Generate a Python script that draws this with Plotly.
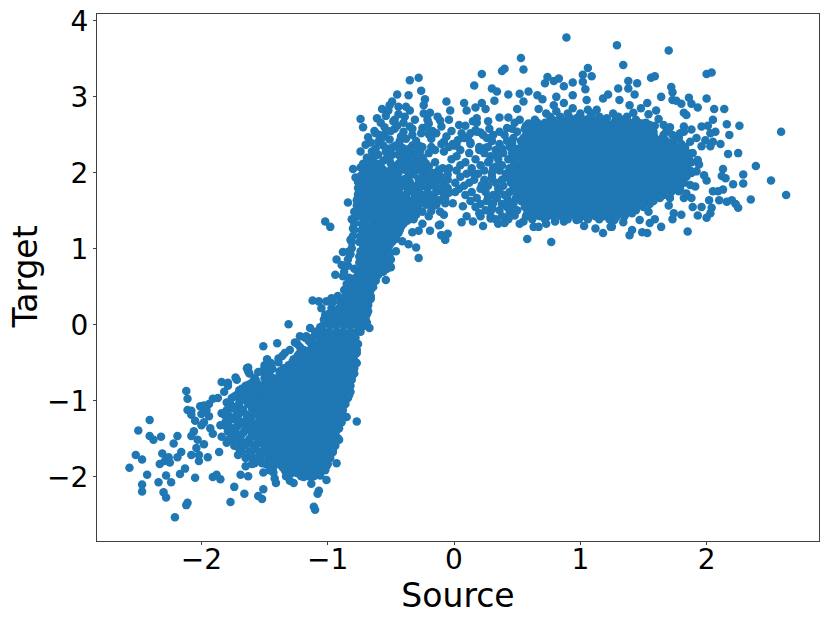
import plotly.graph_objects as go

# outlying and rim points
edge_x = [-2.41,-2.50,-2.41,-2.38,-2.32,-2.19,-2.22,-2.52,-2.47,-2.57,-2.43,-2.47,-2.47,-2.34,-2.28,-2.24,-2.30,-2.28,-2.11,-2.12,-2.21,-2.31,-2.33,-2.29,-2.25,-2.26,-2.19,-2.16,-2.13,-2.17,-2.05,-2.08,-2.12,-2.11,-2.11,-2.08,-2.08,-2.05,-2.01,-1.98,-2.00,-2.00,-2.06,-2.08,-2.03,-1.98,-2.04,-2.02,-2.02,-1.95,-1.91,-1.88,-1.85,-1.74,-1.66,-1.77,-1.69,-1.63,-1.84,-1.79,-1.73,-1.63,-1.63,-1.91,
-1.31,-1.51,-1.40,-0.76,-1.26,-1.22,-1.06,-1.48,-1.64,-1.52,-1.50,-1.46,-1.39,-1.34,-1.23,-0.77,-0.77,-0.82,-0.77,-0.85,-0.92,-0.92,-0.96,-0.93,-1.01,-1.01,-1.06,-1.13,-1.07,-1.08,-1.11,-1.10,-1.27,-1.30,-1.19,-1.41,-1.42,-1.43,-1.51,-1.55,-1.52,-1.51,-1.58,-1.65,-1.30,-1.13,
-0.84,-1.02,-0.98,-0.46,-0.30,-0.28,-0.54,-0.67,-1.12,-1.07,-0.93,-0.89,-0.94,-0.88,-0.84,-0.82,-0.80,-0.81,-0.79,-0.76,-0.20,-0.12,-0.19,-0.10,-0.07,-0.33,-0.28,-0.25,-0.32,-0.36,-0.41,-0.50,-0.56,-0.53,-0.53,-0.11,-0.14,-0.97,-1.01,-1.05,-1.02,-0.66,-0.68,-0.65,-0.88,-1.14,-1.05,-1.17,
-0.35,-0.28,0.22,0.16,-0.45,-0.36,-0.26,-0.23,-0.24,-0.49,-0.51,-0.57,-0.52,-0.44,-0.38,-0.35,-0.61,-0.74,-0.72,-0.39,-0.19,-0.21,-0.06,-0.03,0.08,0.10,0.22,0.17,0.25,-0.11,0.04,0.27,-0.45,-0.47,-0.63,-0.40,-0.35,-0.25,-0.20,-0.10,-0.20,0.18,0.18,-0.70,-0.74,-0.80,-0.74,-0.78,-0.64,-0.59,-0.55,-0.51,-0.43,-0.33,-0.27,-0.15,-0.08,0.03,-0.60,-0.08,0.11,0.23,
0.89,0.53,0.55,0.40,0.38,1.06,1.09,1.02,1.02,0.74,0.72,0.79,0.83,0.94,0.87,1.04,0.94,0.30,0.34,0.43,0.32,0.59,0.52,0.66,0.70,0.81,0.43,0.36,1.05,1.18,1.22,0.50,0.55,0.79,0.87,0.94,1.06,0.67,0.73,1.13,0.13,0.21,0.31,0.52,0.59,0.81,0.97,1.05,1.21,0.68,0.84,0.42,
1.29,1.70,1.34,2.00,2.04,1.56,1.59,1.38,1.45,1.38,1.72,1.73,1.30,1.43,1.64,1.73,1.76,1.80,1.86,1.88,1.93,2.00,2.06,2.14,1.53,1.48,1.60,1.54,1.82,1.84,1.62,2.05,2.16,2.26,2.59,2.01,1.96,2.07,2.03,2.18,1.88,1.82,1.82,1.71,1.66,1.49,1.55,1.39,1.42,1.31,1.92,1.99,2.05,2.11,1.87,1.79,
2.17,2.25,2.39,2.13,2.12,2.15,2.29,2.29,2.21,2.51,2.63,2.13,2.09,2.05,2.35,2.20,2.16,2.25,2.23,2.10,2.02,2.04,2.03,2.00,1.93,1.96,1.89,1.80,1.74,1.73,1.64,1.85,1.53,1.49,1.39,1.41,1.55,1.59,1.47,1.54,1.34,1.25,1.70,1.82,1.88,1.71,2.00,1.98,1.91,1.94,1.92,2.03,1.96,1.89,1.93,1.88,1.87,1.84,1.78,1.63,
0.58,0.77,-0.05,-0.07,-0.10,0.06,0.10,0.15,0.23,0.35,0.40,0.52,0.55,0.63,0.67,0.73,0.80,0.87,0.97,1.03,1.12,1.18,1.24,1.27,-0.08,-0.11,-0.07,-0.01,0.01,0.07,0.21,0.29,0.44,
-0.68,-0.66,-0.62,-0.57,-0.55,-0.50,-0.47,-0.42,-0.38,-0.33,-0.30,-0.26,-0.22,-0.18,-0.14,-0.10,-0.06,-0.02,0.02,0.06,0.13,0.17,0.25,0.30,-0.58,-0.54,-0.48,-0.44,-0.40,-0.31,-0.24,-0.17,-0.13,-0.04,0.00,0.09,0.15,0.20]
edge_y = [-1.25,-1.39,-1.46,-1.51,-1.47,-1.46,-1.56,-1.71,-1.77,-1.88,-1.97,-2.10,-2.19,-2.07,-1.98,-2.07,-2.20,-2.27,-2.34,-2.37,-2.53,-1.69,-1.83,-1.79,-1.81,-1.74,-1.74,-1.67,-1.89,-1.96,-2.01,-1.71,-0.87,-0.97,-1.12,-1.13,-1.18,-1.26,-1.07,-1.06,-1.17,-1.32,-1.40,-1.46,-1.51,-1.57,-1.62,-1.71,-1.79,-1.74,-2.00,-1.97,-2.03,-2.13,-2.22,-2.33,-1.97,-1.99,-0.75,-0.76,-0.69,-0.56,-0.61,-0.97,
0.01,-0.28,-0.24,-0.25,-0.23,-0.15,-0.03,-0.45,-0.57,-0.61,-0.53,-0.55,-0.44,-0.37,-0.39,-0.50,-0.37,-0.88,-1.27,-1.21,-1.37,-1.49,-1.67,-1.82,-1.86,-2.04,-1.98,-2.09,-2.18,-2.22,-2.39,-2.43,-2.08,-2.05,-2.00,-2.08,-2.02,-1.94,-2.16,-2.25,-2.29,-1.94,-1.82,-1.86,-1.96,-1.98,
1.61,1.36,1.29,0.97,1.02,0.88,0.59,-0.04,0.32,0.31,0.86,0.79,0.66,0.96,0.96,1.12,1.27,1.39,1.49,1.69,1.43,1.31,1.24,1.18,1.12,1.22,1.24,1.33,1.39,1.06,1.10,0.76,0.73,0.86,0.96,1.49,1.58,0.35,0.31,0.22,0.13,0.36,0.18,0.50,0.64,-0.04,-0.04,-0.15,
3.22,3.25,3.30,3.15,3.03,3.02,3.08,2.97,2.89,2.94,2.89,2.84,2.82,2.87,2.87,2.82,2.72,2.71,2.60,2.74,2.79,2.70,2.94,2.82,2.92,2.82,2.92,2.86,2.84,2.69,2.63,2.68,2.62,2.58,2.55,2.54,2.61,2.59,2.65,2.61,2.51,2.72,2.66,2.37,2.28,2.05,2.07,1.94,2.21,2.50,2.50,2.44,2.42,2.50,2.35,2.30,2.41,2.43,2.41,2.28,2.46,2.50,
3.78,3.51,3.36,3.37,3.34,3.38,3.27,3.29,3.20,3.26,3.18,3.21,3.24,3.19,3.14,3.10,3.02,3.11,3.07,3.03,2.95,3.07,3.04,3.02,2.97,3.00,2.73,2.73,2.96,2.98,3.03,2.84,2.94,2.89,2.92,2.85,2.83,2.84,2.78,2.83,2.52,2.53,2.50,2.70,2.65,2.81,2.72,2.70,2.72,2.61,2.61,2.59,
3.68,3.61,3.42,3.30,3.32,3.25,3.27,3.21,3.18,3.11,3.13,3.06,3.11,3.03,3.00,2.96,2.95,2.91,2.99,2.91,2.86,2.98,2.84,2.84,2.92,2.85,2.82,2.77,2.79,2.76,2.71,2.70,2.64,2.62,2.54,2.62,2.61,2.54,2.52,2.50,2.57,2.61,2.54,2.60,2.63,2.65,2.63,2.89,2.79,2.96,2.46,2.43,2.41,2.38,2.41,2.52,
2.25,2.26,2.09,2.05,1.96,1.93,1.98,1.86,1.85,1.90,1.71,1.78,1.76,1.76,1.65,1.64,1.62,1.54,1.59,1.64,1.64,1.54,1.47,1.41,1.44,1.55,1.55,1.45,1.47,1.39,1.29,1.23,1.21,1.22,1.18,1.25,1.34,1.39,1.38,1.49,1.35,1.29,1.57,1.67,1.67,1.67,1.90,1.97,1.82,2.11,2.02,2.35,2.35,2.26,2.17,2.00,1.84,1.73,1.76,1.69,
1.13,1.09,1.20,1.12,1.18,1.35,1.43,1.36,1.30,1.33,1.34,1.33,1.36,1.29,1.29,1.33,1.36,1.36,1.38,1.30,1.27,1.21,1.29,1.38,1.45,1.32,1.60,1.60,1.75,1.56,1.43,1.40,1.43,
2.47,2.40,2.52,2.46,2.60,2.55,2.70,2.48,2.45,2.58,2.42,2.52,2.60,2.45,2.52,2.38,2.48,2.55,2.36,2.52,2.40,2.56,2.33,2.42,2.66,2.75,2.68,2.77,2.66,2.70,2.78,2.55,2.74,2.70,2.36,2.62,2.68,2.30]

# dense cloud: one height per row, with the sources estimated along that row
low_y = [-0.09,-0.13,-0.17,-0.21,-0.25,-0.29,-0.33,-0.37,-0.41,-0.45,-0.49,-0.53,-0.57,-0.61,-0.64,-0.68,-0.72,-0.76,-0.80,-0.84,-0.88,-0.92,-0.96,-1.00,-1.04,-1.08,-1.12,-1.16,-1.20,-1.24,-1.28,-1.32,-1.36,-1.40,-1.43,-1.47,-1.51,-1.55,-1.59,-1.63,-1.67,-1.71,-1.75,-1.79,-1.83,-1.87,-1.91,-1.95,-1.99]
low_x = [
[-1.10,-1.04,-0.99,-0.93,-0.88,-0.82,-0.77,-0.74],
[-1.08,-1.02,-0.96,-0.90,-0.85,-0.80],
[-1.18,-1.12,-1.06,-1.01,-0.95,-0.90,-0.84,-0.78],
[-1.15,-1.04,-0.98,-0.93,-0.87,-0.81],
[-1.24,-1.13,-1.08,-1.02,-0.97,-0.91,-0.86,-0.80],
[-1.22,-1.10,-1.05,-0.99,-0.94,-0.88,-0.83,-0.78],
[-1.30,-1.19,-1.14,-1.08,-1.03,-0.97,-0.92,-0.86,-0.80,-0.77],
[-1.22,-1.16,-1.11,-1.05,-1.00,-0.94,-0.89,-0.83],
[-1.36,-1.24,-1.19,-1.13,-1.07,-1.02,-0.96,-0.91,-0.85,-0.79],
[-1.27,-1.21,-1.16,-1.10,-1.05,-0.99,-0.94,-0.88,-0.82],
[-1.39,-1.28,-1.22,-1.17,-1.11,-1.06,-1.00,-0.95,-0.89,-0.84,-0.78],
[-1.31,-1.25,-1.19,-1.14,-1.08,-1.03,-0.97,-0.92,-0.86,-0.81],
[-1.44,-1.35,-1.29,-1.24,-1.18,-1.13,-1.07,-1.02,-0.96,-0.91,-0.85,-0.79],
[-1.38,-1.32,-1.27,-1.21,-1.16,-1.10,-1.05,-0.99,-0.94,-0.88,-0.82],
[-1.62,-1.50,-1.38,-1.33,-1.27,-1.22,-1.16,-1.11,-1.05,-1.00,-0.94,-0.89,-0.83,-0.79],
[-1.47,-1.36,-1.30,-1.25,-1.19,-1.14,-1.08,-1.03,-0.97,-0.92,-0.86,-0.81],
[-1.72,-1.57,-1.46,-1.40,-1.35,-1.29,-1.24,-1.18,-1.13,-1.07,-1.02,-0.96,-0.91,-0.85,-0.81],
[-1.60,-1.49,-1.43,-1.38,-1.32,-1.27,-1.21,-1.16,-1.10,-1.05,-0.99,-0.94,-0.88,-0.83],
[-1.79,-1.65,-1.54,-1.48,-1.43,-1.37,-1.32,-1.26,-1.21,-1.15,-1.10,-1.04,-0.99,-0.93,-0.88,-0.82],
[-1.68,-1.56,-1.51,-1.45,-1.40,-1.34,-1.29,-1.23,-1.18,-1.12,-1.07,-1.01,-0.96,-0.90,-0.85],
[-1.82,-1.69,-1.63,-1.52,-1.46,-1.41,-1.35,-1.29,-1.24,-1.18,-1.13,-1.07,-1.02,-0.96,-0.91,-0.85],
[-1.72,-1.60,-1.54,-1.49,-1.43,-1.38,-1.32,-1.27,-1.21,-1.15,-1.10,-1.04,-0.99,-0.93,-0.88,-0.83],
[-1.87,-1.76,-1.66,-1.55,-1.49,-1.44,-1.38,-1.33,-1.27,-1.22,-1.16,-1.11,-1.05,-1.00,-0.94,-0.89,-0.84],
[-1.69,-1.63,-1.52,-1.46,-1.41,-1.35,-1.30,-1.24,-1.19,-1.13,-1.08,-1.02,-0.97,-0.91,-0.86],
[-1.94,-1.77,-1.63,-1.58,-1.47,-1.41,-1.36,-1.30,-1.25,-1.19,-1.14,-1.08,-1.03,-0.97,-0.92,-0.86],
[-1.73,-1.60,-1.49,-1.44,-1.38,-1.33,-1.27,-1.22,-1.16,-1.11,-1.05,-1.00,-0.94,-0.89],
[-1.96,-1.80,-1.67,-1.55,-1.49,-1.44,-1.38,-1.33,-1.27,-1.22,-1.16,-1.11,-1.05,-1.00,-0.94,-0.88],
[-1.84,-1.70,-1.58,-1.52,-1.46,-1.41,-1.35,-1.30,-1.24,-1.19,-1.13,-1.08,-1.02,-0.97,-0.91],
[-1.94,-1.78,-1.64,-1.52,-1.47,-1.41,-1.36,-1.30,-1.25,-1.19,-1.14,-1.08,-1.03,-0.97,-0.92,-0.87],
[-1.74,-1.61,-1.49,-1.44,-1.38,-1.33,-1.27,-1.22,-1.16,-1.11,-1.05,-1.00,-0.94,-0.89],
[-1.98,-1.81,-1.67,-1.55,-1.49,-1.44,-1.38,-1.33,-1.27,-1.22,-1.16,-1.11,-1.05,-1.00,-0.94,-0.89],
[-1.85,-1.71,-1.58,-1.52,-1.47,-1.41,-1.36,-1.30,-1.25,-1.19,-1.14,-1.08,-1.03,-0.97,-0.92],
[-1.93,-1.76,-1.63,-1.57,-1.46,-1.41,-1.35,-1.29,-1.24,-1.18,-1.13,-1.07,-1.02,-0.96,-0.91],
[-1.79,-1.66,-1.54,-1.49,-1.43,-1.38,-1.32,-1.27,-1.21,-1.15,-1.10,-1.04,-0.99,-0.94],
[-1.91,-1.72,-1.59,-1.48,-1.43,-1.37,-1.32,-1.26,-1.21,-1.15,-1.10,-1.04,-0.99,-0.94],
[-1.84,-1.69,-1.57,-1.51,-1.45,-1.40,-1.35,-1.29,-1.23,-1.18,-1.12,-1.07,-1.01,-0.97],
[-1.76,-1.62,-1.51,-1.46,-1.40,-1.35,-1.29,-1.24,-1.18,-1.13,-1.07,-1.02,-0.96,-0.91],
[-1.80,-1.66,-1.54,-1.48,-1.43,-1.37,-1.32,-1.26,-1.21,-1.15,-1.10,-1.04,-0.99,-0.94],
[-1.74,-1.59,-1.48,-1.43,-1.37,-1.32,-1.26,-1.21,-1.15,-1.10,-1.04,-0.99,-0.94],
[-1.70,-1.57,-1.46,-1.40,-1.34,-1.29,-1.23,-1.18,-1.12,-1.07,-1.01,-0.96],
[-1.86,-1.62,-1.51,-1.45,-1.40,-1.34,-1.29,-1.23,-1.18,-1.12,-1.07,-1.01,-0.96],
[-1.71,-1.54,-1.43,-1.37,-1.32,-1.26,-1.21,-1.15,-1.10,-1.04,-0.98],
[-1.65,-1.53,-1.42,-1.37,-1.31,-1.26,-1.20,-1.15,-1.09,-1.04,-0.98],
[-1.56,-1.45,-1.40,-1.34,-1.29,-1.23,-1.18,-1.12,-1.07,-1.01],
[-1.60,-1.49,-1.38,-1.32,-1.27,-1.21,-1.16,-1.10,-1.05,-1.00],
[-1.43,-1.36,-1.30,-1.25,-1.19,-1.14,-1.08,-1.03],
[-1.46,-1.34,-1.28,-1.23,-1.17,-1.12,-1.06,-1.02],
[-1.29,-1.24,-1.18,-1.13,-1.08],
[-1.33,-1.21,-1.15,-1.11],
]

arm_y = [-0.01,0.03,0.07,0.11,0.14,0.18,0.22,0.26,0.30,0.34,0.38,0.42,0.46,0.50,0.54,0.58,0.62,0.66,0.70,0.74,0.78,0.82,0.86,0.90,0.93,0.97,1.01,1.05,1.09,1.13,1.17,1.21,1.25,1.29,1.33,1.37,1.41,1.45,1.49,1.53,1.57,1.60,1.64,1.68,1.72,1.76,1.80,1.84,1.88,1.92,1.96,2.00,2.04,2.08,2.12,2.16,2.20,2.24,2.28,2.32,2.36]
arm_x = [
[-1.04,-0.98,-0.93,-0.87,-0.82,-0.76,-0.71],
[-1.01,-0.95,-0.90,-0.84,-0.79,-0.73,-0.69],
[-1.03,-0.97,-0.91,-0.86,-0.80,-0.75,-0.70],
[-0.94,-0.88,-0.83,-0.77,-0.72],
[-1.00,-0.95,-0.89,-0.84,-0.78,-0.73,-0.69],
[-0.92,-0.86,-0.81,-0.75,-0.70],
[-0.97,-0.91,-0.86,-0.80,-0.75,-0.70],
[-0.88,-0.83,-0.77,-0.72,-0.68],
[-0.96,-0.90,-0.84,-0.79,-0.73,-0.68],
[-0.87,-0.81,-0.76,-0.70,-0.66],
[-0.92,-0.86,-0.81,-0.76,-0.71,-0.66],
[-0.84,-0.78,-0.73,-0.68],
[-0.87,-0.82,-0.76,-0.71,-0.66],
[-0.79,-0.73,-0.68,-0.64],
[-0.85,-0.80,-0.75,-0.70,-0.65],
[-0.77,-0.72,-0.67,-0.62],
[-0.83,-0.78,-0.73,-0.68,-0.62],
[-0.75,-0.70,-0.65,-0.60],
[-0.87,-0.76,-0.71,-0.65,-0.60,-0.56],
[-0.79,-0.73,-0.68,-0.62,-0.58,-0.53],
[-0.84,-0.73,-0.67,-0.62,-0.57,-0.51],
[-0.75,-0.70,-0.64,-0.59,-0.54],
[-0.84,-0.73,-0.67,-0.62,-0.56,-0.50],
[-0.75,-0.69,-0.64,-0.58,-0.53],
[-0.82,-0.71,-0.66,-0.60,-0.55,-0.51],
[-0.74,-0.68,-0.63,-0.57,-0.52],
[-0.81,-0.70,-0.64,-0.59,-0.54],
[-0.72,-0.67,-0.61,-0.56,-0.51],
[-0.81,-0.75,-0.64,-0.59,-0.53,-0.49],
[-0.72,-0.67,-0.61,-0.56,-0.50,-0.46],
[-0.80,-0.74,-0.63,-0.58,-0.52,-0.47],
[-0.71,-0.66,-0.60,-0.55,-0.49,-0.44],
[-0.79,-0.73,-0.62,-0.57,-0.51,-0.46,-0.43],
[-0.70,-0.65,-0.59,-0.54,-0.48,-0.42],
[-0.79,-0.73,-0.62,-0.57,-0.51,-0.46,-0.40],
[-0.70,-0.65,-0.59,-0.54,-0.48,-0.43,-0.37],
[-0.78,-0.72,-0.61,-0.56,-0.50,-0.45,-0.39,-0.34],
[-0.75,-0.69,-0.64,-0.58,-0.53,-0.47,-0.40,-0.30],
[-0.78,-0.72,-0.67,-0.61,-0.56,-0.50,-0.45,-0.36,-0.25],
[-0.75,-0.69,-0.64,-0.58,-0.53,-0.47,-0.42,-0.31],
[-0.77,-0.72,-0.66,-0.61,-0.55,-0.50,-0.44,-0.38,-0.28,-0.16],
[-0.74,-0.69,-0.63,-0.58,-0.52,-0.47,-0.41,-0.33,-0.19],
[-0.77,-0.71,-0.66,-0.60,-0.55,-0.49,-0.44,-0.36,-0.27,-0.12],
[-0.74,-0.68,-0.63,-0.57,-0.52,-0.46,-0.41,-0.31,-0.22],
[-0.76,-0.71,-0.65,-0.60,-0.54,-0.49,-0.43,-0.38,-0.26,-0.16,-0.08],
[-0.73,-0.68,-0.62,-0.57,-0.51,-0.46,-0.35,-0.29,-0.13],
[-0.76,-0.70,-0.65,-0.59,-0.54,-0.48,-0.43,-0.37,-0.21,-0.10,-0.05],
[-0.73,-0.67,-0.62,-0.56,-0.51,-0.45,-0.40,-0.29,-0.18],
[-0.76,-0.70,-0.65,-0.59,-0.54,-0.48,-0.35,-0.26,-0.15,-0.08],
[-0.72,-0.66,-0.61,-0.55,-0.50,-0.44,-0.39,-0.28,-0.17],
[-0.74,-0.69,-0.63,-0.58,-0.52,-0.47,-0.36,-0.25,-0.11],
[-0.71,-0.66,-0.60,-0.55,-0.44,-0.33,-0.22,-0.16],
[-0.72,-0.67,-0.61,-0.56,-0.50,-0.39,-0.28,-0.12],
[-0.69,-0.64,-0.58,-0.47,-0.36,-0.31,-0.20],
[-0.72,-0.66,-0.61,-0.50,-0.44,-0.33,-0.22],
[-0.67,-0.56,-0.51,-0.40,-0.30,-0.24],
[-0.69,-0.64,-0.53,-0.42,-0.36,-0.25],
[-0.60,-0.49,-0.44,-0.34],
[-0.65,-0.54,-0.43,-0.38,-0.27],
[-0.62,-0.51,-0.40,-0.35],
[-0.56,-0.46,-0.33,-0.29],
]

top_y = [2.78,2.74,2.70,2.66,2.62,2.58,2.54,2.50,2.46,2.42,2.38,2.34,2.30,2.26,2.22,2.18,2.14,2.10,2.06,2.03,1.99,1.95,1.91,1.87,1.83,1.79,1.75,1.71,1.67,1.63,1.59,1.55,1.51,1.47,1.43,1.39]
top_x = [
[0.90,1.00,1.09,1.26],
[0.76,0.84,0.91,0.99,1.08,1.15,1.30,1.37],
[0.64,0.78,0.85,0.90,0.96,1.03,1.09,1.14,1.19,1.28,1.34,1.44],
[0.48,0.66,0.72,0.77,0.83,0.88,0.94,0.99,1.05,1.10,1.16,1.21,1.27,1.32,1.39,1.46,1.52],
[0.57,0.63,0.69,0.75,0.80,0.86,0.91,0.97,1.02,1.08,1.13,1.19,1.24,1.30,1.35,1.41,1.46,1.59],
[0.28,0.46,0.56,0.62,0.67,0.73,0.78,0.84,0.89,0.95,1.00,1.06,1.11,1.17,1.22,1.28,1.33,1.39,1.44,1.50,1.57],
[0.18,0.36,0.50,0.59,0.64,0.70,0.75,0.81,0.86,0.92,0.97,1.03,1.08,1.14,1.19,1.25,1.30,1.36,1.41,1.47,1.52,1.58,1.68],
[0.40,0.57,0.62,0.66,0.72,0.77,0.83,0.88,0.93,1.01,1.05,1.09,1.16,1.21,1.24,1.28,1.36,1.41,1.47,1.52,1.58,1.66,1.73],
[0.08,0.26,0.47,0.55,0.60,0.66,0.71,0.77,0.82,0.88,0.93,0.99,1.04,1.10,1.15,1.21,1.26,1.32,1.37,1.43,1.48,1.54,1.59,1.65,1.78],
[0.30,0.42,0.53,0.58,0.63,0.69,0.74,0.80,0.85,0.91,0.96,1.02,1.07,1.13,1.18,1.24,1.29,1.35,1.40,1.46,1.51,1.57,1.62,1.68,1.74],
[-0.01,0.13,0.36,0.54,0.60,0.66,0.72,0.77,0.83,0.88,0.94,0.99,1.05,1.10,1.16,1.21,1.27,1.32,1.38,1.43,1.49,1.54,1.60,1.65,1.71,1.80],
[-0.04,0.20,0.27,0.44,0.53,0.58,0.64,0.69,0.75,0.80,0.86,0.91,0.97,1.02,1.08,1.13,1.19,1.24,1.30,1.35,1.41,1.46,1.52,1.57,1.63,1.68,1.75,1.83],
[0.05,0.33,0.53,0.59,0.64,0.70,0.75,0.81,0.86,0.92,0.97,1.03,1.08,1.14,1.19,1.25,1.30,1.36,1.41,1.47,1.52,1.58,1.63,1.69,1.74,1.81],
[0.12,0.24,0.39,0.46,0.56,0.61,0.67,0.72,0.78,0.83,0.89,0.94,1.00,1.05,1.11,1.16,1.22,1.27,1.33,1.38,1.44,1.49,1.55,1.60,1.66,1.71,1.77,1.85],
[0.02,0.29,0.53,0.58,0.63,0.69,0.74,0.80,0.85,0.91,0.96,1.02,1.07,1.13,1.18,1.24,1.29,1.35,1.40,1.46,1.51,1.57,1.62,1.68,1.73,1.79,1.85],
[-0.02,0.17,0.35,0.43,0.54,0.59,0.65,0.70,0.76,0.81,0.87,0.92,0.98,1.03,1.09,1.14,1.20,1.25,1.31,1.36,1.42,1.47,1.53,1.58,1.64,1.69,1.75,1.80,1.86],
[0.09,0.27,0.48,0.55,0.60,0.66,0.71,0.77,0.82,0.88,0.93,0.99,1.04,1.10,1.15,1.21,1.26,1.32,1.37,1.43,1.48,1.54,1.59,1.65,1.70,1.76,1.81,1.88],
[0.05,0.21,0.38,0.52,0.57,0.63,0.68,0.74,0.79,0.85,0.90,0.96,1.01,1.07,1.12,1.18,1.23,1.29,1.34,1.40,1.45,1.51,1.56,1.62,1.67,1.73,1.78,1.84],
[-0.04,0.14,0.31,0.44,0.55,0.61,0.66,0.72,0.77,0.83,0.88,0.94,0.99,1.05,1.10,1.16,1.21,1.27,1.32,1.38,1.43,1.49,1.54,1.60,1.65,1.71,1.76,1.83],
[0.02,0.24,0.36,0.49,0.55,0.60,0.66,0.71,0.77,0.82,0.88,0.93,0.99,1.04,1.10,1.15,1.21,1.26,1.32,1.37,1.43,1.48,1.54,1.59,1.65,1.70,1.76,1.81,1.87],
[0.10,0.19,0.41,0.53,0.58,0.64,0.69,0.75,0.80,0.86,0.91,0.97,1.02,1.08,1.13,1.19,1.24,1.30,1.35,1.41,1.46,1.52,1.57,1.63,1.68,1.74,1.79,1.85],
[0.05,0.30,0.47,0.52,0.58,0.63,0.69,0.74,0.80,0.85,0.91,0.96,1.02,1.07,1.13,1.18,1.24,1.29,1.35,1.40,1.46,1.51,1.57,1.62,1.68,1.73,1.79,1.84],
[-0.05,0.16,0.24,0.38,0.50,0.55,0.61,0.66,0.72,0.77,0.83,0.88,0.94,0.99,1.05,1.10,1.16,1.21,1.27,1.32,1.38,1.43,1.49,1.54,1.60,1.65,1.71,1.76],
[0.01,0.12,0.33,0.45,0.55,0.61,0.66,0.72,0.77,0.83,0.88,0.94,0.99,1.05,1.10,1.16,1.21,1.27,1.32,1.38,1.43,1.49,1.54,1.60,1.65,1.71,1.76,1.82],
[0.08,0.27,0.39,0.52,0.58,0.63,0.69,0.74,0.80,0.85,0.91,0.96,1.02,1.07,1.13,1.18,1.24,1.29,1.35,1.40,1.46,1.51,1.57,1.62,1.68,1.74],
[0.04,0.21,0.35,0.47,0.53,0.58,0.64,0.69,0.75,0.80,0.86,0.91,0.97,1.02,1.08,1.13,1.19,1.24,1.30,1.35,1.41,1.46,1.52,1.57,1.63,1.68,1.74,1.79],
[0.14,0.25,0.44,0.56,0.61,0.67,0.72,0.78,0.83,0.89,0.94,1.00,1.05,1.11,1.16,1.22,1.27,1.33,1.38,1.44,1.49,1.55,1.60,1.66,1.72],
[0.09,0.31,0.40,0.50,0.56,0.61,0.67,0.72,0.78,0.83,0.89,0.94,1.00,1.05,1.11,1.16,1.22,1.27,1.33,1.38,1.44,1.49,1.55,1.60,1.66],
[0.18,0.34,0.49,0.54,0.59,0.64,0.70,0.75,0.81,0.86,0.92,0.97,1.03,1.08,1.14,1.19,1.25,1.30,1.36,1.41,1.47,1.52,1.58,1.63],
[0.13,0.26,0.43,0.53,0.59,0.64,0.70,0.75,0.81,0.86,0.92,0.97,1.03,1.08,1.14,1.19,1.25,1.30,1.36,1.41,1.47,1.52,1.58],
[0.21,0.38,0.47,0.57,0.62,0.67,0.73,0.78,0.84,0.89,0.95,1.00,1.06,1.11,1.17,1.22,1.28,1.33,1.39,1.44,1.50,1.55],
[0.17,0.30,0.42,0.56,0.62,0.67,0.73,0.78,0.84,0.89,0.95,1.00,1.06,1.11,1.17,1.22,1.28,1.33,1.39,1.44,1.50],
[0.25,0.36,0.50,0.60,0.66,0.71,0.77,0.82,0.88,0.93,0.99,1.04,1.10,1.15,1.21,1.26,1.32,1.37,1.44],
[0.20,0.44,0.58,0.64,0.70,0.75,0.81,0.86,0.92,0.97,1.03,1.08,1.14,1.19,1.25,1.30,1.36,1.41],
[0.29,0.38,0.57,0.63,0.68,0.74,0.79,0.85,0.90,0.96,1.01,1.07,1.12,1.18,1.23,1.29,1.35],
[0.33,0.43,0.62,0.72,0.90,0.99,1.06,1.15,1.23],
]

# looser parts of the cloud, left of the lower blob, round the shoulder and before the plateau
loose_y = [-0.50,-0.58,-0.62,-0.70,-0.78,-0.86,-0.94,-1.02,-1.10,-1.18,-1.26,-1.34,-1.42,-1.50,-1.58,-1.66,-1.74,-1.82,
2.34,2.26,2.14,2.06,1.98,1.90,1.82,1.74,1.66,1.58,1.50,1.42,
2.40,2.32,2.24,2.16,2.08,2.00,1.92,1.84,1.76,1.68,1.60,1.52,1.44]
loose_x = [
[-1.45],
[-1.50,-1.44],
[-1.55,-1.46],
[-1.58,-1.50,-1.43],
[-1.62,-1.55,-1.46],
[-1.70,-1.59,-1.52,-1.45],
[-1.74,-1.66,-1.58,-1.49,-1.43],
[-1.80,-1.70,-1.62,-1.55,-1.47],
[-1.76,-1.69,-1.60,-1.53,-1.46,-1.40],
[-1.82,-1.72,-1.64,-1.56,-1.48],
[-1.78,-1.70,-1.62,-1.54,-1.47,-1.41],
[-1.80,-1.72,-1.65,-1.58,-1.50],
[-1.74,-1.67,-1.60,-1.52,-1.45],
[-1.78,-1.70,-1.62,-1.55,-1.48],
[-1.72,-1.65,-1.57,-1.50,-1.44],
[-1.68,-1.60,-1.52,-1.46],
[-1.60,-1.55,-1.47,-1.42],
[-1.52,-1.45,-1.40],
[-0.48,-0.42,-0.25,-0.18],
[-0.52,-0.38,-0.30,-0.20],
[-0.38,-0.27,-0.15],
[-0.42,-0.25,-0.09],
[-0.32,-0.19,-0.05],
[-0.41,-0.22,-0.12],
[-0.33,-0.26,-0.15],
[-0.32,-0.21,-0.04],
[-0.38,-0.25,-0.17,-0.07],
[-0.34,-0.22],
[-0.41,-0.30,-0.18],
[-0.45,-0.36],
[0.46],
[0.38,0.48],
[0.34,0.50],
[0.28,0.47],
[0.33,0.47],
[0.15,0.30,0.47],
[0.30,0.44],
[0.22,0.47],
[0.36,0.49],
[0.27,0.42],
[0.31,0.46],
[0.30,0.44],
[0.48],
]

source = list(edge_x)
target = list(edge_y)
for row_y, row_x in zip(low_y + arm_y + top_y + loose_y, low_x + arm_x + top_x + loose_x):
    for value in row_x:
        source.append(value)
        target.append(row_y)

fig = go.Figure()
fig.add_trace(go.Scatter(x=source, y=target, mode="markers",
                         marker=dict(color="#1f77b4", size=8.5, line=dict(width=0))))

axis_style = dict(showgrid=False, zeroline=False, showline=True, linecolor="#404040",
                  linewidth=1, mirror=True, ticks="outside", ticklen=3, tickwidth=1,
                  tickcolor="#404040", tickfont=dict(size=28, color="black"))
fig.update_xaxes(range=[-2.827, 2.89], tickvals=[-2, -1, 0, 1, 2], ticklabelstandoff=-10,
                 title=dict(text="Source", font=dict(size=33, color="black"), standoff=9),
                 **axis_style)
fig.update_yaxes(range=[-2.842, 4.09], tickvals=[-2, -1, 0, 1, 2, 3, 4], ticklabelstandoff=-1,
                 **axis_style)
# the axis title ignored its standoff here, so the y title is placed by hand
fig.add_annotation(text="Target", textangle=-90, xref="paper", yref="paper", x=-0.0997, y=0.5,
                   xanchor="center", yanchor="middle", showarrow=False,
                   font=dict(size=33, color="black"))
fig.update_layout(width=830, height=623, showlegend=False, template=None,
                  font=dict(family="DejaVu Sans"), plot_bgcolor="white", paper_bgcolor="white",
                  margin=dict(l=97, r=11, t=14, b=82))
# the page's default 8px body margin would push the figure off its place
fig.write_html("out.html", config=dict(displayModeBar=False),
               post_script="document.body.style.margin='0';")
